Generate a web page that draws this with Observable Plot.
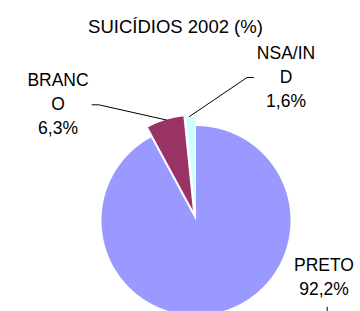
<!DOCTYPE html>
<html><head><meta charset="utf-8">
<script src="https://cdn.jsdelivr.net/npm/d3@7"></script>
<script src="https://cdn.jsdelivr.net/npm/@observablehq/plot@0.6"></script>
<style>html,body{margin:0;padding:0;background:#fff;overflow:hidden} svg{display:block}</style>
</head><body><div id="chart"></div>
<script>
// ---- data ----
const title = "SUICÍDIOS 2002 (%)";
const categories = ["PRETO", "BRANCO", "NSA/IND"];
const values = [92.2, 6.3, 1.6];
const labelTexts = ["PRETO\n92,2%", "BRANC\nO\n6,3%", "NSA/IN\nD\n1,6%"];
const colors = ["#9999FF", "#993366", "#CCFFFF"];

// ---- layout ----
const W = 360, H = 311;
const cx = 195.5, cy = 220, R = 94.5;
const explode = [0, 10.5, 9];
const labelPos = [[323.5, 254], [57.5, 69], [285.5, 41.6]];
const leaders = [
  [[326.7, 306.7], [326.7, 311]],
  [[91.7, 104.3], [98.3, 104.3], [166, 119.5]],
  [[189, 116], [246.5, 77], [253, 77]]
];
const font = "'Liberation Sans', Arial, sans-serif";

const rows = categories.map((c, i) => ({cat: c, value: values[i]}));
const arcs = d3.pie().sort(null).value(d => d.value).startAngle(0).endAngle(2 * Math.PI)(rows);

const slicePts = [];
arcs.forEach((a, i) => {
  const mid = (a.startAngle + a.endAngle) / 2;
  const ox = cx + explode[i] * Math.sin(mid), oy = cy - explode[i] * Math.cos(mid);
  slicePts.push({cat: a.data.cat, x: ox, y: oy});
  const n = Math.max(2, Math.ceil((a.endAngle - a.startAngle) / (Math.PI / 360)));
  for (let k = 0; k <= n; k++) {
    const t = a.startAngle + (a.endAngle - a.startAngle) * k / n;
    slicePts.push({cat: a.data.cat, x: ox + R * Math.sin(t), y: oy - R * Math.cos(t)});
  }
  slicePts.push({cat: a.data.cat, x: ox, y: oy});
});

const leaderPts = [];
leaders.forEach((l, i) => l.forEach(p => leaderPts.push({id: i, x: p[0], y: p[1]})));

const labels = categories.map((c, i) => ({x: labelPos[i][0], y: labelPos[i][1], text: labelTexts[i]}));

const chart = Plot.plot({
  width: W, height: H,
  margin: 0,
  x: {domain: [0, W], range: [0, W], axis: null},
  y: {domain: [0, H], range: [0, H], axis: null},
  color: {domain: categories, range: colors},
  style: {background: "#fff", fontFamily: font},
  marks: [
    Plot.line(slicePts, {x: "x", y: "y", z: "cat", fill: "cat", stroke: "none", curve: "linear"}),
    Plot.line(leaderPts, {x: "x", y: "y", z: "id", stroke: "#000", strokeWidth: 1}),
    Plot.text(labels, {x: "x", y: "y", text: "text", textAnchor: "middle", lineAnchor: "top",
      lineHeight: 1.36, fontSize: 17.5, fontFamily: font, fill: "#000"}),
    Plot.text([title], {x: () => 175, y: () => 19.3, text: d => d, textAnchor: "middle", lineAnchor: "top",
      fontSize: 18.5, fontFamily: font, fill: "#000"})
  ]
});
document.getElementById("chart").appendChild(chart);
</script>
</body></html>
